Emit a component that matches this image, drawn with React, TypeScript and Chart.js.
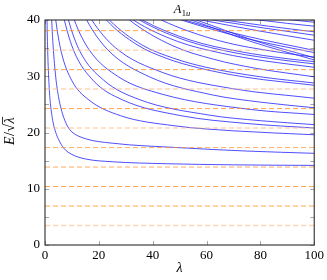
import React, { useEffect, useRef } from 'react';
import { Chart, registerables } from 'chart.js';

Chart.register(...registerables);

const SERIF = '"Liberation Serif", "DejaVu Serif", serif';

// axis ticks
const xTicks = [0, 20, 40, 60, 80, 100];
const yTicks = [0, 5, 10, 15, 20, 25, 30, 35, 40];

// dashed asymptotic levels (orange)
const asymptoteLevels = [3.464, 6.928, 10.392, 13.856, 17.321, 20.785, 24.249, 27.713, 31.177, 34.641, 38.105];
const asymptoteTone = ['light', 'dark', 'dark', 'mid', 'mid', 'light', 'dark', 'light', 'dark', 'light', 'dark'];

// blue level curves: [lambda, E/sqrt(lambda)]
const curve01 = [[0.6, 46], [0.75, 40], [1, 34.5], [1.5, 28.5], [2, 25.2], [3, 21.8], [4, 20.0], [5, 18.8], [7, 17.2], [10, 16.1], [15, 15.3], [25, 14.8], [45, 14.45], [70, 14.25], [100, 14.15]];
const curve02 = [[2.2, 45], [2.5, 40], [3, 35.5], [4, 29.8], [5, 26.4], [6, 24.2], [7, 22.6], [8.5, 21.0], [10, 20.1], [15, 18.9], [25, 18.1], [50, 17.3], [75, 16.7], [100, 16.3]];
const curve03 = [[3.4, 42.7], [4, 40], [6, 34.4], [10, 29.2], [16, 25.9], [28, 23.0], [48, 21.2], [70, 20.3], [100, 19.6]];
const curve04 = [[6.1, 42.7], [7.2, 40], [10.8, 34.4], [18, 29.2], [28.8, 25.8], [50.4, 23.0], [75, 21.6], [100, 20.8]];
const curve05 = [[7.4, 42.7], [8.7, 40], [13, 34.4], [21.8, 29.3], [34.8, 25.9], [60.9, 23.1], [80, 22.1], [100, 21.4]];
const curve06 = [[9.3, 42.6], [10.9, 40], [16.4, 34.7], [27.3, 29.9], [43.6, 26.8], [76.3, 24.1], [100, 23.2]];
const curve07 = [[13.2, 42.6], [15.5, 40], [23.3, 34.7], [38.8, 29.9], [62, 26.7], [80, 25.4], [100, 24.4]];
const curve08 = [[14.8, 42.4], [17.4, 40], [26.1, 35.1], [43.5, 30.7], [69.6, 27.8], [100, 26.1]];
const curve09 = [[19.4, 42.2], [22.8, 40], [34.2, 35.6], [45, 33.2], [57, 31.5], [75, 29.8], [100, 28.4]];
const curve10 = [[20.3, 42.1], [23.9, 40], [35.9, 35.6], [47.8, 33.2], [59.8, 31.6], [80, 29.9], [100, 28.8]];
const curve11 = [[26.7, 42.2], [31.4, 40], [47.1, 35.5], [62.8, 33.0], [78.5, 31.4], [100, 29.9]];
const curve12 = [[27.9, 41.9], [32.8, 40], [49.2, 36.2], [65.6, 34.1], [82, 32.7], [100, 31.6]];
const curve13 = [[29.8, 41.8], [35.1, 40], [52.7, 36.3], [70.2, 34.2], [87.8, 32.9], [100, 32.2]];
const curve14 = [[30.7, 41.7], [36.1, 40], [54.2, 36.4], [72.2, 34.4], [90.3, 33.1], [100, 32.6]];
const curve15 = [[36.7, 41.8], [43.2, 40], [64.8, 36.3], [86.4, 34.3], [100, 33.4]];
const curve16 = [[43, 41.3], [50.6, 40], [75, 36.7], [100, 34.2]];
const curve17 = [[44, 41.3], [51.8, 40], [76, 37.0], [100, 34.6]];
const curve18 = [[46, 41.3], [54.3, 40], [77, 36.1], [100, 32.9]];
const curve19 = [[48, 41.3], [56.2, 40], [78, 36.3], [100, 33.3]];
const curve20 = [[50, 40.8], [58, 40], [79, 38.1], [100, 36.4]];
const curve21 = [[54, 40.6], [62.2, 40], [81, 38.6], [100, 37.3]];
const curve22 = [[58, 40.6], [66.6, 40], [83, 38.9], [100, 37.9]];
const curve23 = [[70, 40.5], [79.6, 40], [90, 39.4], [100, 38.9]];
const curve24 = [[84, 40.4], [92, 40], [100, 39.6]];

const curves = [
  curve01, curve02, curve03, curve04, curve05, curve06, curve07, curve08,
  curve09, curve10, curve11, curve12, curve13, curve14, curve15, curve16,
  curve17, curve18, curve19, curve20, curve21, curve22, curve23, curve24,
];

const toneColor: Record<string, string> = {
  dark: 'rgba(255,140,30,0.8)',
  mid: 'rgba(255,145,40,0.72)',
  light: 'rgba(255,180,120,0.55)',
};
const toneWidth: Record<string, number> = { dark: 1, mid: 1, light: 1.5 };

export default function App() {
  const ref = useRef<HTMLCanvasElement>(null);

  useEffect(() => {
    const canvas = ref.current;
    if (!canvas) return;

    const dashSets = asymptoteLevels.map((v, i) => ({
      data: [{ x: 0, y: v }, { x: 100, y: v }],
      borderColor: toneColor[asymptoteTone[i]],
      borderWidth: toneWidth[asymptoteTone[i]],
      borderDash: [5, 3],
      pointRadius: 0,
      fill: false,
    }));

    const blueSets = curves.map((c) => ({
      data: c.map(([x, y]) => ({ x, y })),
      borderColor: 'rgba(30,30,255,0.78)',
      borderWidth: 1,
      pointRadius: 0,
      fill: false,
      cubicInterpolationMode: 'monotone' as const,
    }));

    const decor = {
      id: 'decor',
      afterDatasetsDraw(chart: any) {
        const { ctx, chartArea: a, scales } = chart;
        const xs = scales.x;
        const ys = scales.y;
        ctx.save();
        ctx.strokeStyle = 'rgba(0,0,0,0.35)';
        ctx.lineWidth = 1;
        const tl = 4;
        ctx.beginPath();
        yTicks.forEach((v) => {
          const py = Math.round(ys.getPixelForValue(v)) + 0.5;
          ctx.moveTo(a.left, py); ctx.lineTo(a.left + tl, py);
          ctx.moveTo(a.right, py); ctx.lineTo(a.right - tl, py);
        });
        xTicks.forEach((v) => {
          const px = Math.round(xs.getPixelForValue(v)) + 0.5;
          ctx.moveTo(px, a.bottom); ctx.lineTo(px, a.bottom - tl);
          ctx.moveTo(px, a.top); ctx.lineTo(px, a.top + tl);
        });
        ctx.stroke();
        ctx.strokeStyle = 'rgba(40,40,40,0.9)';
        ctx.lineWidth = 1.2;
        ctx.strokeRect(a.left, a.top, a.right - a.left, a.bottom - a.top);
        ctx.restore();
      },
      afterDraw(chart: any) {
        const { ctx, chartArea: a } = chart;
        ctx.save();
        ctx.fillStyle = '#000';
        ctx.textBaseline = 'alphabetic';
        ctx.textAlign = 'left';

        // title A_{1u}
        const fA = `italic 12.5px ${SERIF}`;
        const fS = `8.5px ${SERIF}`;
        const fSI = `italic 8.5px ${SERIF}`;
        ctx.font = fA; const wA = ctx.measureText('A').width;
        ctx.font = fS; const w1 = ctx.measureText('1').width;
        ctx.font = fSI; const wu = ctx.measureText('u').width;
        const tot = wA + w1 + wu + 0.5;
        let tx = 182 - tot / 2;
        ctx.font = fA; ctx.fillText('A', tx, 12.5); tx += wA + 0.5;
        ctx.font = fS; ctx.fillText('1', tx, 15.5); tx += w1;
        ctx.font = fSI; ctx.fillText('u', tx, 15.5);

        // x label
        ctx.font = `italic 14px ${SERIF}`;
        ctx.textAlign = 'center';
        ctx.fillText('λ', (a.left + a.right) / 2, 272);

        // y label E/√λ
        ctx.textAlign = 'left';
        ctx.translate(14, 131);
        ctx.rotate(-Math.PI / 2);
        const fI = `italic 14px ${SERIF}`;
        const fN = `14px ${SERIF}`;
        ctx.font = fI; const wE = ctx.measureText('E').width; const wL = ctx.measureText('λ').width;
        ctx.font = fN; const wSl = ctx.measureText('/').width; const wSq = ctx.measureText('√').width;
        const total = wE + wSl + wSq + wL + 2;
        let x = -total / 2;
        ctx.font = fI; ctx.fillText('E', x, 0); x += wE + 0.5;
        ctx.font = fN; ctx.fillText('/', x, 0); x += wSl + 0.5;
        ctx.fillText('√', x, 0); x += wSq;
        const barStart = x - 0.5;
        ctx.font = fI; ctx.fillText('λ', x + 0.5, 0); x += wL + 1;
        ctx.strokeStyle = '#000';
        ctx.lineWidth = 0.8;
        ctx.beginPath();
        ctx.moveTo(barStart, -11.5);
        ctx.lineTo(x, -11.5);
        ctx.stroke();
        ctx.restore();
      },
    };

    const chart = new Chart(canvas, {
      type: 'line',
      data: { datasets: [...dashSets, ...blueSets] as any },
      options: {
        animation: false,
        responsive: false,
        events: [],
        layout: { padding: { top: 20, right: 11, left: 0, bottom: 0 } },
        plugins: {
          legend: { display: false },
          tooltip: { enabled: false },
          title: { display: false },
        },
        scales: {
          x: {
            type: 'linear',
            min: 0,
            max: 100,
            afterBuildTicks: (s: any) => { s.ticks = xTicks.map((v) => ({ value: v })); },
            afterFit: (s: any) => { s.height = 35; },
            ticks: { font: { family: SERIF, size: 13 }, color: '#000', padding: 3, maxRotation: 0, autoSkip: false },
            grid: { display: false, drawTicks: false },
            border: { display: false },
          },
          y: {
            type: 'linear',
            min: 0,
            max: 40,
            afterBuildTicks: (s: any) => { s.ticks = yTicks.map((v) => ({ value: v })); },
            afterFit: (s: any) => { s.width = 45; },
            ticks: {
              font: { family: SERIF, size: 13 },
              color: '#000',
              padding: 5,
              autoSkip: false,
              callback: (v: any) => (Number(v) % 10 === 0 ? String(v) : ''),
            },
            grid: { display: false, drawTicks: false },
            border: { display: false },
          },
        },
      } as any,
      plugins: [decor],
    });

    return () => chart.destroy();
  }, []);

  return (
    <div style={{ position: 'fixed', left: 0, top: 0, width: 327, height: 280, background: '#fff' }}>
      <canvas ref={ref} width={327} height={280} style={{ display: 'block' }} />
    </div>
  );
}
